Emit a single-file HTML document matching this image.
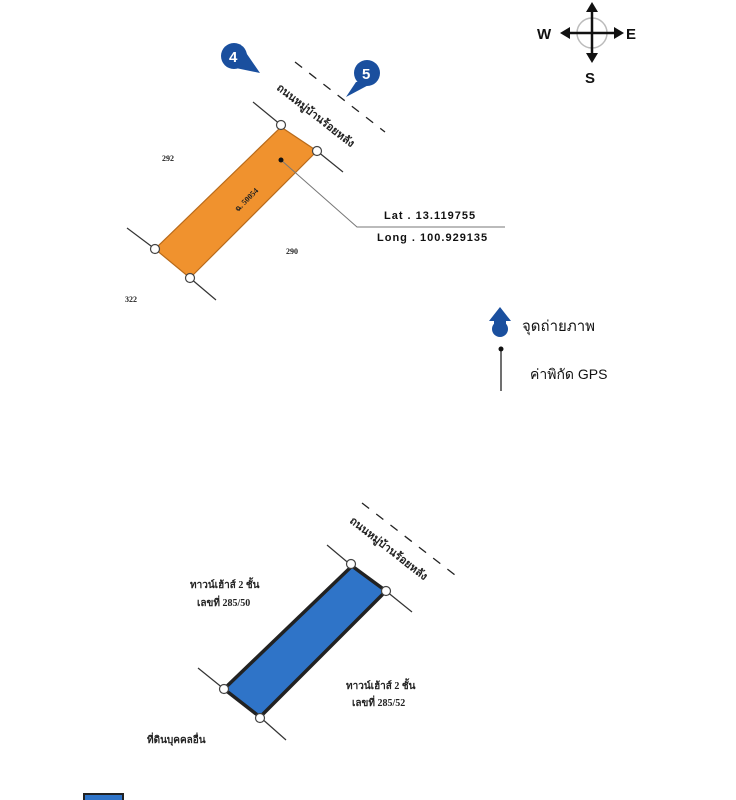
<!DOCTYPE html>
<html><head><meta charset="utf-8"><style>
body{margin:0;background:#fff;width:736px;height:800px;overflow:hidden}
svg{display:block}
.s{font-family:"Liberation Serif","Noto Serif CJK SC",serif;font-weight:bold;fill:#222}
.t{font-family:"Liberation Sans","Noto Sans CJK SC",sans-serif;fill:#111}
</style></head><body>
<svg width="736" height="800" viewBox="0 0 736 800">
<!-- compass -->
<circle cx="592" cy="33" r="15" fill="none" stroke="#bbb" stroke-width="1.5"/>
<line x1="592" y1="8" x2="592" y2="58" stroke="#111" stroke-width="2.5"/>
<line x1="566" y1="33" x2="618" y2="33" stroke="#111" stroke-width="2.5"/>
<polygon points="592,2 586,12 598,12" fill="#111"/>
<polygon points="592,63 586,53 598,53" fill="#111"/>
<polygon points="560,33 570,27 570,39" fill="#111"/>
<polygon points="624,33 614,27 614,39" fill="#111"/>
<text x="537" y="39" class="t" font-size="15" font-weight="bold">W</text>
<text x="626" y="39" class="t" font-size="15" font-weight="bold">E</text>
<text x="585" y="83" class="t" font-size="15" font-weight="bold">S</text>

<!-- orange parcel -->
<g stroke="#333" stroke-width="1.2">
<line x1="253" y1="102" x2="281" y2="125"/><line x1="317" y1="151" x2="343" y2="172"/>
<line x1="127" y1="228" x2="155" y2="249"/><line x1="190" y1="278" x2="216" y2="300"/>
</g>
<line x1="295" y1="62" x2="385" y2="132" stroke="#222" stroke-width="1.3" stroke-dasharray="9,9"/>
<polygon points="281,127 317,151 190,278 155,249" fill="#f0922e" stroke="#b86a1a" stroke-width="1.2"/>
<g fill="#fff" stroke="#444" stroke-width="1.2">
<circle cx="281" cy="125" r="4.5"/><circle cx="317" cy="151" r="4.5"/>
<circle cx="155" cy="249" r="4.5"/><circle cx="190" cy="278" r="4.5"/>
</g>
<text class="s" font-size="8" transform="translate(238,212) rotate(-45)">ฉ. 50054</text>
<polyline points="281,160 357,227 505,227" fill="none" stroke="#777" stroke-width="1"/>
<circle cx="281" cy="160" r="2.5" fill="#111"/>
<text x="384" y="219" class="t" font-size="11" font-weight="bold" letter-spacing="1">Lat  .  13.119755</text>
<text x="377" y="241" class="t" font-size="11" font-weight="bold" letter-spacing="1">Long  . 100.929135</text>
<text class="s" font-size="11" transform="translate(276,89) rotate(38)" font-weight="normal">ถนนหมู่บ้านร้อยหลัง</text>
<text x="162" y="161" class="s" font-size="8">292</text>
<text x="286" y="254" class="s" font-size="8">290</text>
<text x="125" y="302" class="s" font-size="8">322</text>

<!-- markers -->
<polygon points="240,44 260,73 226,66" fill="#1a4f9e"/>
<circle cx="234" cy="56" r="13" fill="#1a4f9e"/>
<text x="229" y="62" class="t" font-size="15" font-weight="bold" style="fill:#fff">4</text>
<polygon points="356,82 378,80 346,97" fill="#1a4f9e"/>
<circle cx="367" cy="73" r="13" fill="#1a4f9e"/>
<text x="362" y="79" class="t" font-size="15" font-weight="bold" style="fill:#fff">5</text>

<!-- legend -->
<polygon points="500,307 489,321 511,321" fill="#1a4f9e"/>
<circle cx="500" cy="329" r="8" fill="#1a4f9e"/>
<rect x="494" y="318" width="12" height="9" fill="#1a4f9e"/>
<text x="522" y="331" class="t" font-size="15">จุดถ่ายภาพ</text>
<circle cx="501" cy="349" r="2.5" fill="#111"/>
<line x1="501" y1="349" x2="501" y2="391" stroke="#111" stroke-width="1.2"/>
<text x="530" y="379" class="t" font-size="14">ค่าพิกัด GPS</text>

<!-- blue parcel -->
<g stroke="#333" stroke-width="1.2">
<line x1="327" y1="545" x2="352" y2="566"/><line x1="386" y1="591" x2="412" y2="612"/>
<line x1="198" y1="668" x2="224" y2="689"/><line x1="260" y1="717" x2="286" y2="740"/>
</g>
<line x1="362" y1="503" x2="455" y2="575" stroke="#222" stroke-width="1.3" stroke-dasharray="9,9"/>
<polygon points="352,566 386,591 260,717 224,689" fill="#2f74c8" stroke="#222" stroke-width="3.5"/>
<g fill="#fff" stroke="#444" stroke-width="1.2">
<circle cx="351" cy="564" r="4.5"/><circle cx="386" cy="591" r="4.5"/>
<circle cx="224" cy="689" r="4.5"/><circle cx="260" cy="718" r="4.5"/>
</g>
<text class="s" font-size="11" transform="translate(349,522) rotate(38)" font-weight="normal">ถนนหมู่บ้านร้อยหลัง</text>
<text x="190" y="588" class="s" font-size="10">ทาวน์เฮ้าส์ 2 ชั้น</text>
<text x="197" y="606" class="s" font-size="10">เลขที่ 285/50</text>
<text x="346" y="689" class="s" font-size="10">ทาวน์เฮ้าส์ 2 ชั้น</text>
<text x="352" y="706" class="s" font-size="10">เลขที่ 285/52</text>
<text x="147" y="743" class="s" font-size="10">ที่ดินบุคคลอื่น</text>
<rect x="84" y="794" width="39" height="12" fill="#2f74c8" stroke="#222" stroke-width="2"/>
</svg>
</body></html>
